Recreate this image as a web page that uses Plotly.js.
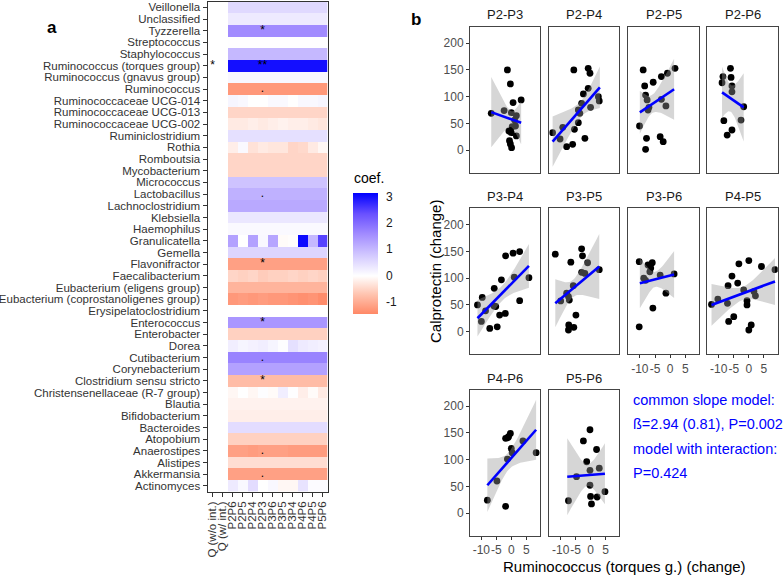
<!DOCTYPE html>
<html>
<head>
<meta charset="utf-8">
<script src="https://cdn.plot.ly/plotly-3.0.1.min.js"></script>
<style>
  html, body { margin: 0; padding: 0; background: #fff; }
  #chart { width: 784px; height: 576px; }
</style>
</head>
<body>
<div id="chart"></div>
<script>
// ---- panel a: heatmap data ----
var genera = ['Veillonella', 'Unclassified', 'Tyzzerella', 'Streptococcus', 'Staphylococcus',
    'Ruminococcus (torques group)', 'Ruminococcus (gnavus group)', 'Ruminococcus',
    'Ruminococcaceae UCG-014', 'Ruminococcaceae UCG-013', 'Ruminococcaceae UCG-002',
    'Ruminiclostridium', 'Rothia', 'Romboutsia', 'Mycobacterium', 'Micrococcus', 'Lactobacillus',
    'Lachnoclostridium', 'Klebsiella', 'Haemophilus', 'Granulicatella', 'Gemella', 'Flavonifractor',
    'Faecalibacterium', 'Eubacterium (eligens group)', 'Eubacterium (coprostanoligenes group)',
    'Erysipelatoclostridium', 'Enterococcus', 'Enterobacter', 'Dorea', 'Cutibacterium',
    'Corynebacterium', 'Clostridium sensu stricto', 'Christensenellaceae (R-7 group)', 'Blautia',
    'Bifidobacterium', 'Bacteroides', 'Atopobium', 'Anaerostipes', 'Alistipes', 'Akkermansia',
    'Actinomyces'];
var comparisons = ['Q (w/o int.)', 'Q (w/ int.)', 'P2P6', 'P2P5', 'P2P4', 'P2P3', 'P3P6', 'P3P5',
    'P3P4', 'P4P6', 'P4P5', 'P5P6'];
// coefficients for the ten pairwise columns (P2P6 ... P5P6), one row per genus
var coef = [
    [0.55, 0.55, 0.55, 0.55, 0.55, 0.55, 0.55, 0.55, 0.55, 0.55],
    [0.3, 0.3, 0.3, 0.3, 0.3, 0.3, 0.3, 0.3, 0.3, 0.3],
    [1.6, 1.6, 1.6, 1.6, 1.6, 1.6, 1.6, 1.6, 1.6, 1.6],
    [0.02, 0.02, 0.02, 0.02, 0.02, 0.02, 0.02, 0.02, 0.02, 0.02],
    [1.0, 1.0, 1.0, 1.0, 1.0, 1.0, 1.0, 1.0, 1.0, 1.0],
    [3.0, 3.0, 3.0, 3.0, 3.0, 3.0, 3.0, 3.0, 3.0, 3.0],
    [0.12, 0.12, 0.12, 0.12, 0.12, 0.12, 0.12, 0.12, 0.12, 0.12],
    [-1.25, -1.25, -1.25, -1.25, -1.25, -1.25, -1.25, -1.25, -1.25, -1.25],
    [0.15, 0.1, 0.0, 0.0, 0.08, 0.08, 0.0, 0.1, 0.1, 0.15],
    [-0.5, -0.5, -0.5, -0.5, -0.5, -0.5, -0.5, -0.5, -0.5, -0.5],
    [-0.25, -0.25, -0.2, -0.25, -0.2, -0.15, -0.2, -0.2, -0.25, -0.3],
    [0.45, 0.45, 0.45, 0.45, 0.45, 0.45, 0.45, 0.45, 0.45, 0.45],
    [-0.2, 0.08, -0.35, -0.25, -0.3, -0.3, -0.5, -0.45, -0.25, -0.1],
    [-0.5, -0.5, -0.5, -0.5, -0.5, -0.5, -0.5, -0.5, -0.5, -0.5],
    [-0.5, -0.5, -0.5, -0.5, -0.5, -0.5, -0.5, -0.5, -0.5, -0.5],
    [0.85, 0.85, 0.85, 0.85, 0.85, 0.85, 0.85, 0.85, 0.85, 0.85],
    [1.1, 1.1, 1.1, 1.1, 1.1, 1.1, 1.1, 1.1, 1.1, 1.1],
    [1.2, 1.2, 1.2, 1.2, 1.2, 1.2, 1.2, 1.2, 1.2, 1.2],
    [0.35, 0.35, 0.35, 0.35, 0.35, 0.35, 0.35, 0.35, 0.35, 0.35],
    [0.08, 0.08, 0.08, 0.08, 0.08, 0.08, 0.08, 0.08, 0.08, 0.08],
    [1.3, 0.0, 1.3, 0.1, 1.25, -0.05, -0.03, 3.05, 1.0, 2.5],
    [0.6, 0.6, 0.6, 0.6, 0.6, 0.6, 0.6, 0.6, 0.6, 0.6],
    [-1.15, -1.15, -1.15, -1.15, -1.15, -1.15, -1.15, -1.15, -1.15, -1.15],
    [-0.5, -0.55, -0.5, -0.6, -0.55, -0.55, -0.5, -0.55, -0.5, -0.55],
    [-0.9, -0.9, -0.9, -0.9, -0.9, -0.9, -0.9, -0.9, -0.9, -0.9],
    [-1.25, -1.2, -1.25, -1.2, -1.25, -1.25, -1.3, -1.35, -1.3, -1.4],
    [0.0, 0.0, 0.0, 0.0, 0.0, 0.0, 0.0, 0.0, 0.0, 0.0],
    [1.45, 1.45, 1.45, 1.45, 1.45, 1.45, 1.45, 1.45, 1.45, 1.45],
    [-0.55, -0.55, -0.55, -0.55, -0.55, -0.55, -0.55, -0.55, -0.55, -0.55],
    [0.25, 0.15, 0.2, 0.25, 0.15, 0.03, 0.45, 0.3, 0.25, 0.2],
    [1.7, 1.7, 1.7, 1.7, 1.7, 1.7, 1.7, 1.7, 1.7, 1.7],
    [1.3, 1.3, 1.3, 1.3, 1.3, 1.3, 1.3, 1.3, 1.3, 1.3],
    [-0.8, -0.8, -0.8, -0.8, -0.8, -0.8, -0.8, -0.8, -0.8, -0.8],
    [-0.1, 0.0, -0.1, 0.03, -0.05, 0.25, 0.02, -0.2, -0.05, -0.25],
    [-0.15, -0.15, -0.15, -0.15, -0.15, -0.15, -0.15, -0.15, -0.15, -0.15],
    [-0.2, -0.2, -0.2, -0.2, -0.2, -0.2, -0.2, -0.2, -0.2, -0.2],
    [0.5, 0.5, 0.5, 0.5, 0.5, 0.5, 0.5, 0.5, 0.5, 0.5],
    [-0.55, -0.55, -0.55, -0.55, -0.55, -0.55, -0.55, -0.55, -0.55, -0.55],
    [-1.15, -1.15, -1.2, -1.15, -1.15, -1.15, -1.2, -1.2, -1.2, -1.2],
    [-0.4, -0.4, -0.4, -0.4, -0.4, -0.4, -0.4, -0.4, -0.4, -0.4],
    [-1.15, -1.15, -1.15, -1.15, -1.15, -1.15, -1.15, -1.15, -1.15, -1.15],
    [0.3, 0.1, 0.5, 0.0, 0.1, -0.1, -0.1, 0.4, 0.05, 0.05]
];
// significance marks
var starCol = ['Q (w/o int.)', 'P2P3', 'P2P3', 'P2P3', 'P2P3', 'P2P3', 'P2P3', 'P2P3', 'P2P3', 'P2P3', 'P2P3'];
var starRow = ['Ruminococcus (torques group)', 'Tyzzerella', 'Ruminococcus (torques group)', 'Ruminococcus',
    'Lactobacillus', 'Flavonifractor', 'Enterococcus', 'Cutibacterium', 'Clostridium sensu stricto',
    'Anaerostipes', 'Akkermansia'];
var starText = ['*', '*', '**', '.', '.', '*', '*', '.', '*', '.', '.'];
var coefTicks = [-1, 0, 1, 2, 3];
var coefTickText = ['-1', '0', '1', '2', '3'];

// ---- panel b: scatter data (x = Ruminococcus torques change, y = calprotectin change) ----
var pairs = ['P2-P3', 'P2-P4', 'P2-P5', 'P2-P6', 'P3-P4', 'P3-P5', 'P3-P6', 'P4-P5', 'P4-P6', 'P5-P6'];
var x_P2P3 = [-6.7, -2.4, -1.3, -0.3, 0.6, 3.3, 0, 1.7, 1.4, 0.3, -0.8, 0, -0.6, -0.3, 0.1, 1.7, 1.1];
var y_P2P3 = [68.8, 73.8, 150, 123.8, 88.8, 93.8, 70, 64.4, 45, 43.8, 35.6, 32.5, 17.5, 11.3, 4.4, 26.3, 56];
var x_P2P4 = [-12.7, -10.2, -9.3, -8, -6, -5.6, -5.4, -4.1, -3.6, -3, -2.4, -1.9, -0.8, -0.8, -0.2, 0, 2.6, 2.9, -4.1];
var y_P2P4 = [32.5, 20.6, 42.5, 6.3, 10.6, 150, 38.8, 51.3, 68.8, 87.5, 105, 21.9, 115.6, 153, 143.8, 80, 100, 91.9, 75];
var x_P2P5 = [-10.1, -8.9, -8.4, -8.1, -7.6, -7.3, -7.8, -8.1, -5.6, -2.9, -0.9, 1.6, -2.9, -1.4, -3.3, -2.3, -7];
var y_P2P5 = [45, 150, 120, 103, 93.8, 75, 21.9, 1.3, 126.9, 137.5, 143.8, 153, 95, 82.5, 25, 15.6, 80];
var x_P2P6 = [-8.6, -8.9, -6.1, -5.9, -5.6, -5.6, -8.3, -7.2, -5.6, -1.7, -2.6];
var y_P2P6 = [137.5, 126, 153, 136, 120, 109, 55, 28, 37.5, 81, 56];
var x_P3P4 = [-11.3, -9.7, -10, -8.6, -7.2, -5.8, -5.7, -5.2, -4.7, -3.9, -3.3, -2, -1.9, 0.6, 1, 2.8, 2.8, 5.9];
var y_P3P4 = [50, 64, 19, 39, 6, 48, 81, 47, 9, 31, 97, 34, 142, 147, 102, 150, 58, 101];
var x_P3P5 = [-11.8, -10, -7.4, -7.1, -6.6, -5.8, -4.9, -7.3, -7.4, -5.6, -3, -2.7, -1, -3, -1.9, 2.9, -8];
var y_P3P5 = [145, 57.5, 65.6, 59, 130, 86, 31, 12.5, 3, 8, 155, 142, 129, 111, 109, 116, 72];
var x_P3P6 = [-10.2, -10.2, -8.7, -7.3, -6.7, -5.9, -6.4, -5.7, -3.3, -1.4, 1.3, -8.1];
var y_P3P6 = [131, 9, 100, 125, 112, 129, 119, 44, 106, 72, 108, 96];
var x_P4P5 = [-12.4, -10.3, -7.1, -6.9, -6.7, -5.6, -5, -3.7, -3.3, -1.7, -0.6, -0.6, 0, 0, 0.8, 1.7, 2.2, 4.2, 8.7];
var y_P4P5 = [51, 61, 53, 86, 19, 104, 28, 91, 127, 78, 58, 50, 133, 3, 12.5, 75, 67, 122, 116];
var x_P4P6 = [-8, -4.8, -1.9, -1.9, -0.9, -0.3, -1.3, 0, 0.3, 3.9, 8.3, -1.2];
var y_P4P6 = [24, 60, 12.6, 140, 143, 149, 101, 121, 113, 135, 113, 141];
var x_P5P6 = [-7.4, -4.7, -2.4, -1.3, -0.2, -0.2, -0.2, 0, 0.3, 2, 2.2, 2.9, 4.8];
var y_P5P6 = [23, 68, 135, 96, 80, 52, 156, 31, 17, 119, 30, 84, 40];
var panelX = [x_P2P3, x_P2P4, x_P2P5, x_P2P6, x_P3P4, x_P3P5, x_P3P6, x_P4P5, x_P4P6, x_P5P6];
var panelY = [y_P2P3, y_P2P4, y_P2P5, y_P2P6, y_P3P4, y_P3P5, y_P3P6, y_P4P5, y_P4P6, y_P5P6];

// linear fits and confidence band
var fitX1 = [-6.7, -12.7, -10.0, -8.9, -11.3, -11.8, -10.0, -12.4, -8.0, -7.8];
var fitX2 = [3.3, 3.1, 1.3, -1.7, 5.9, 2.9, 1.3, 8.7, 8.3, 4.8];
var fitY1 = [71, 15.6, 70.6, 108, 25, 53, 90.6, 50, 52, 68];
var fitY2 = [51, 117.5, 113.8, 80, 123, 122, 107, 94, 156, 73.6];
var bandLeft = [66, 47, 40, 48, 34, 45, 47, 39, 50, 72];
var bandRight = [40, 39, 57, 64, 41, 61, 44, 44, 56, 57];
var bandMin = [15, 15, 17, 25, 14, 16, 14, 12, 16, 20];
var bandMinX = [0, -3, -6, -6, -3, -6, -5, -2, -1, -1];

var xTicks = [-10, -5, 0, 5];
var xTickText = ['-10', '-5', '0', '5'];
var yTicks = [0, 50, 100, 150, 200];

var modelText = ['common slope model:', 'ß=2.94 (0.81), P=0.002', 'model with interaction:', 'P=0.424'];

// ---- layout helpers ----
var W = 784, H = 576;
function fx(p) { return p / W; }
function fy(p) { return 1 - p / H; }
var FONT = 'Liberation Sans, Arial, Helvetica, sans-serif';

var colDom = [[470, 540], [549.3, 619.3], [628.3, 699.3], [707.3, 777.7]];
var rowDom = [[26.7, 172.7], [208.3, 354.3], [389.7, 535.7]];
var stripY = [14, 197, 378];

var zFull = coef.map(function (r) { return [null, null].concat(r); });

var traces = [];
traces.push({
    type: 'heatmap',
    x: comparisons,
    y: genera,
    z: zFull,
    xaxis: 'x', yaxis: 'y',
    zmin: -1.45, zmax: 3.15,
    colorscale: [
        [0, 'rgb(255,136,102)'],
        [0.163, 'rgb(255,196,176)'],
        [0.315, 'rgb(255,255,255)'],
        [0.487, 'rgb(210,200,255)'],
        [0.659, 'rgb(162,140,255)'],
        [0.828, 'rgb(105,80,255)'],
        [1, 'rgb(0,0,255)']
    ],
    hoverongaps: false,
    colorbar: {
        x: fx(352.7), xanchor: 'left', xpad: 0,
        y: fy(192.7), yanchor: 'top', ypad: 0,
        len: 121.3 / H, lenmode: 'fraction',
        thickness: 25, thicknessmode: 'pixels',
        outlinewidth: 0,
        tickmode: 'array', tickvals: coefTicks, ticktext: coefTickText,
        ticks: 'outside', ticklen: 6, tickcolor: 'rgba(0,0,0,0)',
        tickfont: { family: FONT, size: 12, color: '#1a1a1a' }
    }
});
traces.push({
    type: 'scatter', mode: 'text',
    x: starCol, y: starRow, text: starText,
    xaxis: 'x', yaxis: 'y',
    textfont: { family: FONT, size: 12, color: '#000' },
    hoverinfo: 'skip', showlegend: false
});

var layout = {
    width: W, height: H,
    margin: { l: 0, r: 0, t: 0, b: 0 },
    paper_bgcolor: '#fff', plot_bgcolor: '#fff',
    showlegend: false,
    font: { family: FONT, color: '#1a1a1a' },
    xaxis: {
        domain: [fx(207.5), fx(327.5)], anchor: 'y', type: 'category',
        range: [-0.5, 11.5], tickangle: -90,
        tickmode: 'array', tickvals: comparisons, ticktext: comparisons,
        ticks: 'outside', ticklen: 4, tickcolor: '#333',
        tickfont: { family: FONT, size: 11.5, color: '#333' },
        showline: true, mirror: true, linecolor: '#333', linewidth: 1,
        showgrid: false, zeroline: false
    },
    yaxis: {
        domain: [fy(491.8), fy(1.5)], anchor: 'x', type: 'category',
        range: [41.5, -0.5],
        tickmode: 'array', tickvals: genera, ticktext: genera,
        ticks: 'outside', ticklen: 4, tickcolor: '#333',
        tickfont: { family: FONT, size: 11.5, color: '#333' },
        showline: true, mirror: true, linecolor: '#333', linewidth: 1,
        showgrid: false, zeroline: false
    },
    annotations: [],
    shapes: []
};

for (var i = 0; i < pairs.length; i++) {
    var row = Math.floor(i / 4), col = i % 4;
    var k = i + 2;
    var xa = 'x' + k, ya = 'y' + k;
    var bottom = (i >= 6);
    var left = (col === 0);

    layout['xaxis' + k] = {
        domain: [fx(colDom[col][0]), fx(colDom[col][1])], anchor: ya,
        range: [-13.8, 9.6],
        tickmode: 'array', tickvals: xTicks, ticktext: xTickText, tickangle: 0,
        showticklabels: bottom,
        ticks: bottom ? 'outside' : '', ticklen: 3, tickcolor: '#333',
        tickfont: { family: FONT, size: 12, color: '#4d4d4d' },
        showline: true, mirror: true, linecolor: '#444', linewidth: 1,
        showgrid: false, zeroline: false
    };
    layout['yaxis' + k] = {
        domain: [fy(rowDom[row][1]), fy(rowDom[row][0])], anchor: xa,
        range: [-42.5, 231],
        tickmode: 'array', tickvals: yTicks, showticklabels: left,
        ticks: left ? 'outside' : '', ticklen: 3, tickcolor: '#333',
        tickfont: { family: FONT, size: 12, color: '#4d4d4d' },
        showline: true, mirror: true, linecolor: '#444', linewidth: 1,
        showgrid: false, zeroline: false
    };

    traces.push({
        type: 'scatter', mode: 'markers',
        x: panelX[i], y: panelY[i], xaxis: xa, yaxis: ya,
        marker: { color: '#000', size: 6.8 },
        hoverinfo: 'skip'
    });

    // confidence band as a hyperbola around the fitted line
    var x1 = fitX1[i], x2 = fitX2[i], xm = bandMinX[i], h0 = bandMin[i];
    var kl = Math.sqrt(Math.max(bandLeft[i] * bandLeft[i] - h0 * h0, 0)) / Math.max(xm - x1, 0.5);
    var kr = Math.sqrt(Math.max(bandRight[i] * bandRight[i] - h0 * h0, 0)) / Math.max(x2 - xm, 0.5);
    var bx = [], up = [], lo = [];
    var n = 40;
    for (var j = 0; j <= n; j++) {
        var xx = x1 + (x2 - x1) * j / n;
        var c = fitY1[i] + (fitY2[i] - fitY1[i]) * (xx - x1) / (x2 - x1);
        var kk = xx < xm ? kl : kr;
        var hw = Math.sqrt(h0 * h0 + kk * kk * (xx - xm) * (xx - xm));
        bx.push(xx); up.push(c + hw); lo.push(c - hw);
    }
    traces.push({
        type: 'scatter', mode: 'lines',
        x: bx.concat(bx.slice().reverse()),
        y: up.concat(lo.slice().reverse()),
        xaxis: xa, yaxis: ya,
        fill: 'toself', fillcolor: 'rgba(153,153,153,0.4)',
        line: { width: 0, color: 'rgba(0,0,0,0)' },
        hoverinfo: 'skip'
    });
    traces.push({
        type: 'scatter', mode: 'lines',
        x: [x1, x2], y: [fitY1[i], fitY2[i]],
        xaxis: xa, yaxis: ya,
        line: { color: '#0000ff', width: 2.6 },
        hoverinfo: 'skip'
    });

    layout.annotations.push({
        xref: 'paper', yref: 'paper',
        x: fx((colDom[col][0] + colDom[col][1]) / 2), y: fy(stripY[row]),
        xanchor: 'center', yanchor: 'middle', showarrow: false,
        text: pairs[i], font: { family: FONT, size: 13, color: '#1a1a1a' }
    });
}

// panel letters, titles, model text
layout.annotations.push(
    { xref: 'paper', yref: 'paper', x: fx(52), y: fy(27), xanchor: 'center', yanchor: 'middle',
      showarrow: false, text: '<b>a</b>', font: { family: FONT, size: 17, color: '#000' } },
    { xref: 'paper', yref: 'paper', x: fx(416), y: fy(20), xanchor: 'center', yanchor: 'middle',
      showarrow: false, text: '<b>b</b>', font: { family: FONT, size: 17, color: '#000' } },
    { xref: 'paper', yref: 'paper', x: fx(352), y: fy(178), xanchor: 'left', yanchor: 'middle',
      showarrow: false, text: 'coef.', font: { family: FONT, size: 14, color: '#000' } },
    { xref: 'paper', yref: 'paper', x: fx(435), y: fy(272), xanchor: 'center', yanchor: 'middle',
      showarrow: false, textangle: -90, text: 'Calprotectin (change)',
      font: { family: FONT, size: 15, color: '#000' } },
    { xref: 'paper', yref: 'paper', x: fx(624), y: fy(566), xanchor: 'center', yanchor: 'middle',
      showarrow: false, text: 'Ruminococcus (torques g.) (change)',
      font: { family: FONT, size: 15, color: '#000' } }
);
var modelY = [400, 423.5, 449, 473];
for (var m = 0; m < modelText.length; m++) {
    layout.annotations.push({
        xref: 'paper', yref: 'paper', x: fx(631), y: fy(modelY[m]),
        xanchor: 'left', yanchor: 'middle', showarrow: false,
        text: modelText[m], font: { family: FONT, size: 14.5, color: '#0000ff' }
    });
}

Plotly.newPlot('chart', traces, layout, { staticPlot: true, displayModeBar: false });
</script>
</body>
</html>
